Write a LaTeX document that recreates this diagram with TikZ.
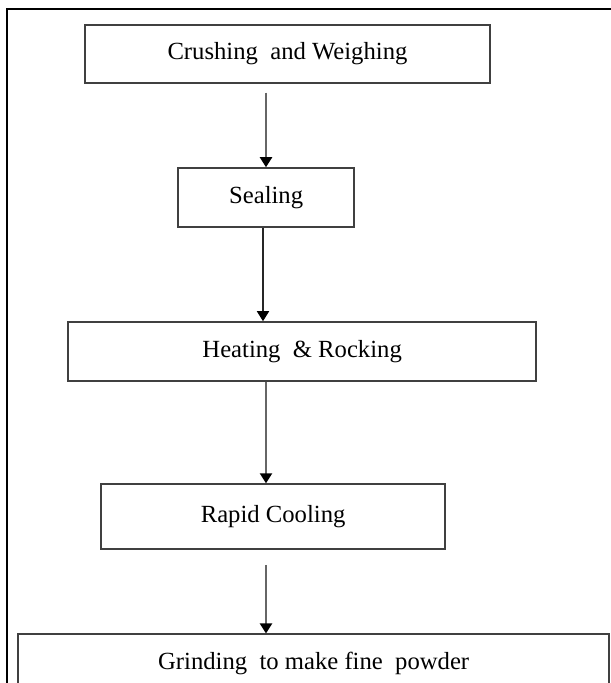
\documentclass[tikz,border=0pt]{standalone}
\usepackage{fontspec}
\setmainfont{Liberation Serif}
\usepackage{tikz}
\usetikzlibrary{arrows.meta}
\tikzstyle{stepbox} = [rectangle, 
minimum height=43.5pt, 
text centered, 
draw=black!75, 
line width=1.1pt, 
font=\fontsize{18.5pt}{22pt}\selectfont]
\tikzstyle{arrow} = [line width=1.6pt, draw=black!60, -{Triangle[width=9pt,length=7.5pt,black]}]

\begin{document}
\begin{tikzpicture}[node distance=110pt]
  \useasboundingbox (0pt,0pt) rectangle (458.25pt,-512.25pt);
  \draw [line width=1.1pt] (5.25pt,-530pt) -- (5.25pt,-6.75pt) -- (470pt,-6.75pt);
  \coordinate (spine) at (199.5pt,0pt);

  \node (crush) [stepbox, minimum width=303.75pt] at (215.6pt,-40.5pt) {Crushing~ and Weighing};
  \node (seal) [stepbox, minimum width=132pt, minimum height=44.25pt, below of=crush, xshift=-16pt, yshift=2.4pt] {Sealing};
  \node (heat) [stepbox, minimum width=351pt, minimum height=44.25pt, below of=seal, xshift=27pt, yshift=-5.5pt] {Heating~ \& Rocking};
  \node (cool) [stepbox, minimum width=258pt, minimum height=48.75pt, below of=heat, xshift=-21.75pt, yshift=-13.8pt] {Rapid Cooling};
  \node (grind) [stepbox, minimum width=443.25pt, below of=cool, xshift=30.4pt] {Grinding~ to make fine~ powder};

  \draw [arrow] ([yshift=-6.75pt]crush.south -| spine) -- (seal.north -| spine);
  \draw [arrow, draw=black!85, line width=1.1pt] ([xshift=-2.25pt]seal.south -| spine) -- ([xshift=-2.25pt]heat.north -| spine);
  \draw [arrow] (heat.south -| spine) -- (cool.north -| spine);
  \draw [arrow] ([yshift=-11.25pt]cool.south -| spine) -- (grind.north -| spine);

\end{tikzpicture}
\end{document}
